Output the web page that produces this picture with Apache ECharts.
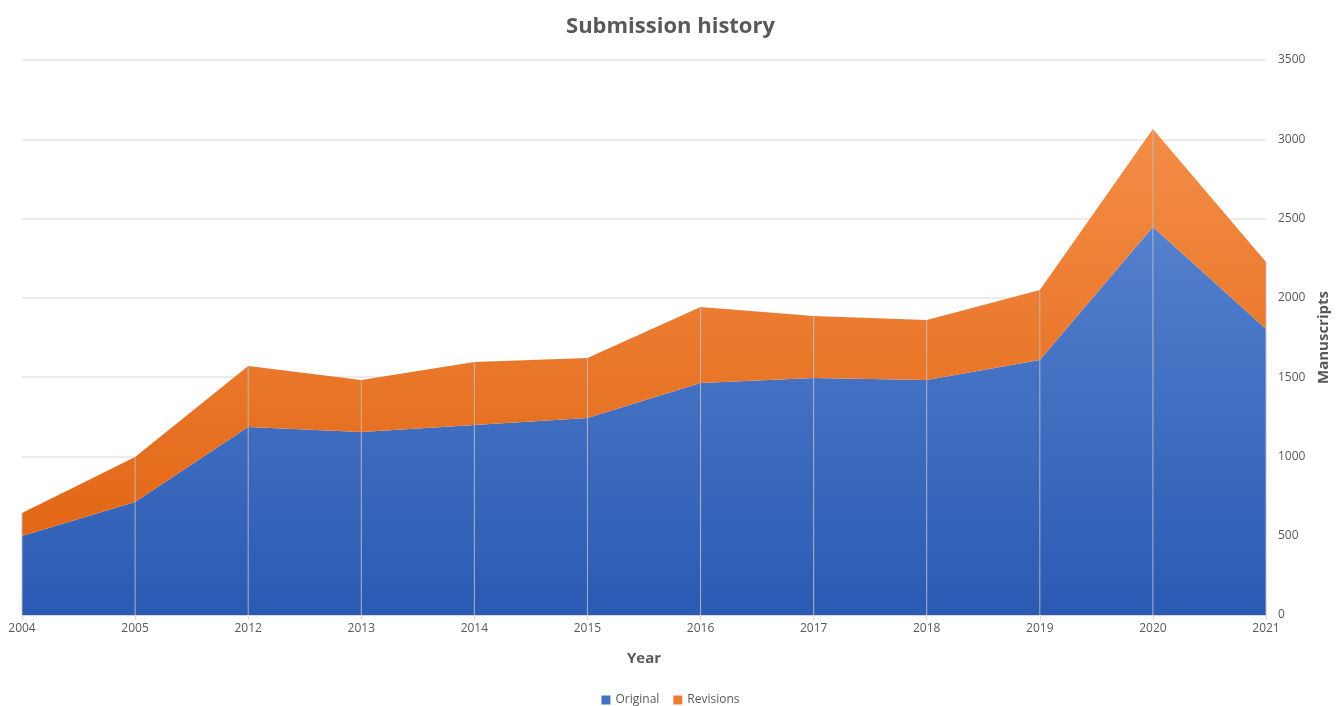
<!DOCTYPE html>
<html><head><meta charset="utf-8">
<script src="https://cdn.jsdelivr.net/npm/echarts@6/dist/echarts.min.js"></script>
<style>html,body{margin:0;padding:0;background:#fff}#c{width:1341px;height:706px}</style>
</head><body><div id="c"></div>
<script>
const years = ['2004','2005','2012','2013','2014','2015','2016','2017','2018','2019','2020','2021'];
const original = [498, 712, 1185, 1154, 1198, 1242, 1463, 1495, 1482, 1608, 2447, 1804];
const revisions = [145, 284, 385, 328, 397, 379, 479, 390, 378, 442, 618, 422];
const yTicks = [0, 500, 1000, 1500, 2000, 2500, 3000, 3500];
const totals = original.map((v, i) => v + revisions[i]);

const chart = echarts.init(document.getElementById('c'));
const font = '"Open Sans", sans-serif';
const grad = (top, bottom) => new echarts.graphic.LinearGradient(0, 60, 0, 615, [
  {offset: 0, color: top}, {offset: 1, color: bottom}], true);
chart.setOption({
  animation: false,
  title: {text: 'Submission history', left: 'center', top: 11,
    textStyle: {fontFamily: font, fontSize: 22, fontWeight: 'bold', color: '#595959'}},
  legend: {data: ['Original', 'Revisions'], bottom: -5, left: 'center', itemWidth: 9, itemHeight: 9, itemGap: 14,
    icon: 'rect', textStyle: {fontFamily: font, fontSize: 12, color: '#595959'}},
  grid: {left: 22, right: 75, top: 60, bottom: 91},
  xAxis: {type: 'category', data: years, boundaryGap: false, z: 1,
    name: 'Year', nameLocation: 'middle', nameGap: 36,
    nameTextStyle: {fontFamily: font, fontSize: 15, fontWeight: 'bold', color: '#595959'},
    axisLine: {lineStyle: {color: '#d9d9d9', width: 1}},
    axisTick: {show: true, length: 5, lineStyle: {color: '#d9d9d9'}},
    axisLabel: {fontFamily: font, fontSize: 12, color: '#595959', margin: 8},
    splitLine: {show: false}},
  yAxis: {type: 'value', position: 'right', min: 0, max: 3500, interval: 500,
    name: 'Manuscripts', nameLocation: 'middle', nameGap: 48, nameRotate: 90,
    nameTextStyle: {fontFamily: font, fontSize: 15, fontWeight: 'bold', color: '#595959'},
    axisLine: {show: false}, axisTick: {show: false},
    axisLabel: {fontFamily: font, fontSize: 12, color: '#595959', margin: 12,
      formatter: v => yTicks.includes(v) ? String(v) : ''},
    splitLine: {lineStyle: {color: '#e5e5e5', width: 1.5}}},
  series: [
    {name: 'Original', type: 'line', stack: 'total', data: original, symbol: 'none',
      lineStyle: {width: 0}, areaStyle: {color: grad('#6690d8', '#2a5ab3'), opacity: 1},
      itemStyle: {color: '#4472c4'}, z: 2},
    {name: 'Revisions', type: 'line', stack: 'total', data: revisions, symbol: 'none',
      lineStyle: {width: 0}, areaStyle: {color: grad('#f6934f', '#df600c'), opacity: 1},
      itemStyle: {color: '#ed7d31'}, z: 2},
    {name: 'drop', type: 'bar', data: totals, barWidth: 1, z: 5, silent: true,
      itemStyle: {color: 'rgba(190,190,190,0.9)'}}
  ]
});
</script></body></html>
